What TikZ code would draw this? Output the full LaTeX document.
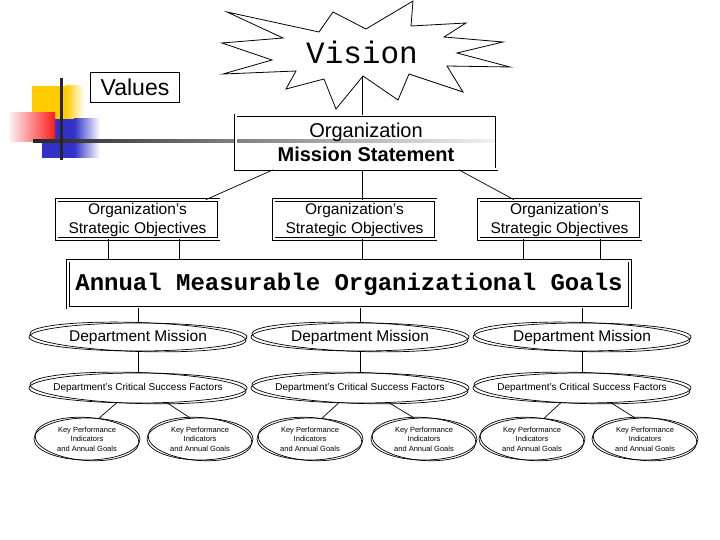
\documentclass[tikz,border=0pt]{standalone}
\usepackage{fontspec}
\setmainfont{Liberation Sans}
\newfontfamily\cour{Liberation Mono}
\usetikzlibrary{shapes.geometric,calc}
\definecolor{lyellow}{RGB}{255,204,0}
\definecolor{lred}{RGB}{250,30,30}
\definecolor{lblue}{RGB}{50,50,200}
\newcommand\dellipse[8]{%
  \node[ell, minimum width=#4pt, minimum height=#5pt, font=#6] (#1) at (#2,#3) {#7};
  \draw[conn, rotate around={#8:(#1.center)}] (#1.center) ellipse ({#4pt/2-1pt} and {#5pt/2+0.5pt});
}
\begin{document}
\begin{tikzpicture}[x=1pt,y=-1pt,
  dbox/.style={draw, double, double distance=2pt, line width=0.6pt, inner sep=0pt, align=center},
  ell/.style={ellipse, draw, line width=0.7pt, inner sep=0pt, align=center},
  conn/.style={line width=0.7pt},
  ]
\useasboundingbox[fill=white] (0,0) rectangle (720,540);
% decorative logo
\fill[lyellow] (32,86) rectangle (66,120);
\shade[left color=lyellow, right color=white] (66,86) rectangle (84,120);
\fill[lblue] (42,119) rectangle (74,158);
\shade[left color=lblue, right color=white] (74,119) rectangle (100,158);
\shade[left color=lred!8, right color=lred] (10,113) rectangle (55,142);
\shade[left color=black!85, middle color=black!55, right color=black!5] (33,139.5) rectangle (495,142.5);
\fill[black!85] (59.5,78) rectangle (62.5,160);

% values
\node[draw, line width=0.8pt, minimum width=89pt, minimum height=30pt, inner sep=0pt,
      font=\fontsize{23}{26}\selectfont] (values) at (135,87) {Values};

% vision star
\draw[line width=0.8pt, fill=white] (227,12) -- (319,32) -- (333,12) -- (366,29) -- (413,1) -- (411,26)
  -- (466,23) -- (444,37) -- (503,42) -- (457,53) -- (510,67) -- (447,66) -- (463,92) -- (409,74)
  -- (398,100) -- (363,76) -- (336,109) -- (324,79) -- (286,89) -- (296,71) -- (223,74) -- (272,60)
  -- (222,43) -- (283,38) -- cycle;
\node[font=\cour\fontsize{31}{31}\selectfont] (vision) at (362,52) {Vision};
\coordinate (vb) at (362,76);

% mission
\node[dbox, minimum width=261pt, minimum height=54pt, font=\fontsize{20}{24}\selectfont]
  (mission) at (366,142.5) {Organization\\\textbf{Mission Statement}};

% strategic objectives
\foreach \n/\x in {so1/137.5, so2/354.5, so3/559.5}
  \node[dbox, minimum width=162pt, minimum height=39pt, font=\fontsize{15.5}{19}\selectfont]
    (\n) at (\x,219.5) {Organization's\\Strategic Objectives};

% annual goals
\node[dbox, minimum width=562pt, minimum height=47pt, font=\cour\bfseries\fontsize{24}{28}\selectfont]
  (annual) at (349,284) {Annual Measurable Organizational Goals};

% department level
\foreach \i/\x/\xa/\xb in {1/138/87/200, 2/360/310/424, 3/582/532/645} {
  \dellipse{dm\i}{\x}{337}{218}{28}{\fontsize{15.5}{18}\selectfont}{Department Mission}{-1.8}
  \dellipse{csf\i}{\x}{388}{218}{30}{\fontsize{10}{12}\selectfont}{\makebox[0pt][c]{Department's Critical Success Factors}}{-1.8}
  \dellipse{kpiA\i}{\xa}{439}{106}{42}{\fontsize{7.5}{9.5}\selectfont}{Key Performance\\Indicators\\and Annual Goals}{-4}
  \dellipse{kpiB\i}{\xb}{439}{106}{42}{\fontsize{7.5}{9.5}\selectfont}{Key Performance\\Indicators\\and Annual Goals}{-4}
}

% connectors
\draw[conn] (vb) -- (mission.north -| vb);
\draw[conn] (mission.south -| vb) -- (so2.north -| vb);
\draw[conn] (so2.south -| vb) -- (annual.north -| vb);
\draw[conn] ($(mission.south west)!0.145!(mission.south east)$) -- ($(so1.north west)!0.92!(so1.north east)$);
\draw[conn] ($(mission.south west)!0.855!(mission.south east)$) -- ($(so3.north west)!0.22!(so3.north east)$);
\foreach \n/\f in {so1/0.32, so1/0.76, so3/0.28, so3/0.75}
  \draw[conn] ($(\n.south west)!\f!(\n.south east)$) coordinate (t) -- (t |- annual.north);
\foreach \i in {1,2,3} {
  \draw[conn] (annual.south -| dm\i.north) -- (dm\i.north);
  \draw[conn] (dm\i.south) -- (csf\i.north);
  \draw[conn] (csf\i.215) -- (kpiA\i.60);
  \draw[conn] (csf\i.333) -- (kpiB\i.115);
}
\end{tikzpicture}
\end{document}
